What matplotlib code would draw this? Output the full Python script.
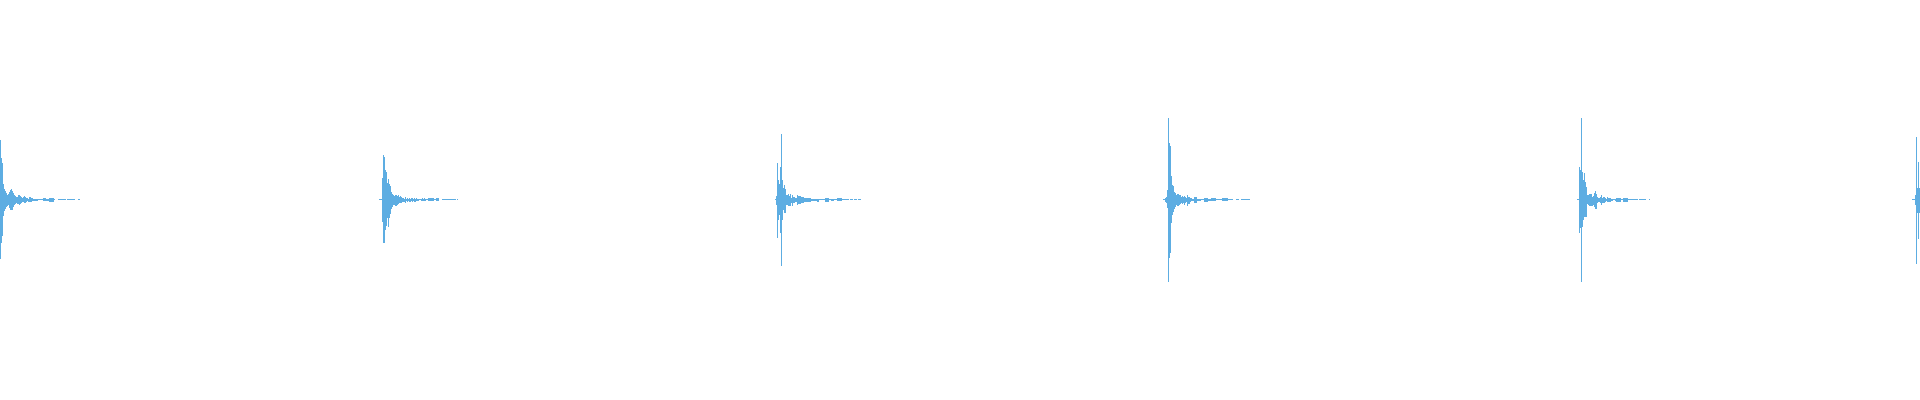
import numpy as np
import matplotlib
matplotlib.use("Agg")
import matplotlib.pyplot as plt

# waveform colour
WAVE_COLOR = "#5DADE2"

# onset of each hit (frame index)
onsets = [0, 379, 775, 1163, 1577, 1912]

# envelope per frame after each onset: upper / lower peak
hit1_up = [60, 42, 37, 16, 11, 9, 7, 5, 6, 8, 10, 11, 9, 7, 5, 4, 3, 3, 5, 5,
           4, 3, 2, 3, 4, 3, 2, 2, 1, 3, 3, 2, 2, 1, 1, 1, 1, 1] \
    + [0.5] * 5 + [2] * 3 + [1] * 3 + [2] * 5 + [0.5] + [0] * 3 + [0.5] * 8 \
    + [0] + [0.5] * 8 + [0] * 3 + [0.5] * 2
hit1_lo = [-59, -43, -36, -16, -11, -9, -7, -6, -5, -8, -10, -10, -10, -7, -5,
           -4, -3, -4, -4, -5, -4, -3, -2, -2, -3, -3, -2, -1, -2, -2, -2, -2,
           -1, -1, -1, -1, -1, -1] \
    + [-0.5] * 5 + [-1] * 3 + [-1] * 3 + [-2] * 5 + [-0.5] + [0] * 3 \
    + [-0.5] * 8 + [0] + [-0.5] * 8 + [0] * 3 + [-0.5] * 2

hit2_up = [0.5] * 3 + [22, 45, 43, 30, 28, 17, 21, 16, 14, 8, 6, 5, 4, 5, 5, 4,
                       5, 3, 4, 3, 2, 2, 1, 3, 1] \
    + [2, 1, 2, 1, 2, 2, 1, 2, 1, 2, 1, 1] + [0.5] * 2 + [1, 1.5, 1, 1.5, 1] \
    + [0.5] * 2 + [1.5] * 6 + [0.5] * 2 + [1.5] * 3 + [0] * 3 + [0.5] * 14 \
    + [0] + [0.5]
hit2_lo = [-0.5] * 3 + [-22, -43, -43, -30, -26, -18, -27, -18, -14, -9, -7, -5,
                        -5, -6, -6, -5, -4, -3, -3, -3, -2, -2, -2, -3, -1] \
    + [-2, -1, -2, -2, -1, -2, -1, -2, -2, -1, -1, -1] + [-0.5] * 2 \
    + [-1, -1.5, -1, -1, -1] + [-0.5] * 2 + [-1.5] * 6 + [-0.5] * 2 \
    + [-1.5] * 3 + [0] * 3 + [-0.5] * 14 + [0] + [-0.5]

hit3_up = [0.5, 4, 37, 20, 16, 33, 66, 20, 12, 15, 11, 5, 5, 6, 4, 6, 2, 5, 3, 3,
           2, 2, 5, 4, 4, 4, 3, 3, 3, 2, 2, 2] \
    + [1.5] * 4 + [1] * 6 + [1, 1] + [0.5] * 6 + [2] * 4 + [0.5] * 2 + [1] * 3 \
    + [0.5] * 3 + [1.5] * 5 + [0.5] * 4 \
    + [0.5] * 3 + [0] + [0.5] * 3 + [0] + [0.5] * 3 + [0] + [0.5] * 3
hit3_lo = [-0.5, -5, -38, -20, -15, -33, -66, -20, -10, -13, -13, -5, -5, -6, -6,
           -6, -3, -6, -3, -3, -2, -2, -5, -4, -4, -4, -3, -3, -3, -2, -2, -2] \
    + [-2] * 4 + [-1] * 6 + [-2, -2] + [-0.5] * 6 + [-2] * 4 + [-0.5] * 2 \
    + [-1] * 3 + [-0.5] * 3 + [-1.5] * 5 + [-0.5] * 4 \
    + [-0.5] * 3 + [0] + [-0.5] * 3 + [0] + [-0.5] * 3 + [0] + [-0.5] * 3

hit4_up = [0.5, 0.5, 2, 3, 10, 82, 57, 54, 24, 15, 14, 8, 7, 5, 6, 6, 5, 5, 3, 4,
           3, 4, 3, 2, 5, 3, 3, 2, 2, 1, 1] \
    + [3] * 3 + [1] * 4 + [0.5] * 3 + [2] * 4 + [1] * 3 + [1.5] * 5 \
    + [0.5] * 6 + [1.5] * 6 + [0.5] * 5 + [0] * 3 + [0.5] * 3 + [0] * 2 \
    + [0.5] * 9
hit4_lo = [-0.5, -0.5, -2, -3, -8, -82, -58, -53, -23, -15, -12, -9, -7, -5, -6,
           -6, -5, -4, -3, -4, -3, -5, -3, -2, -6, -4, -4, -2, -1, -1, -1] \
    + [-3] * 3 + [-1] * 4 + [-0.5] * 3 + [-2] * 4 + [-1] * 3 + [-1.5] * 5 \
    + [-0.5] * 6 + [-1.5] * 6 + [-0.5] * 5 + [0] * 3 + [-0.5] * 3 + [0] * 2 \
    + [-0.5] * 9

hit5_up = [0.5, 0.5, 33, 30, 82, 28, 20, 27, 18, 13, 5, 5, 6, 6, 6, 3, 4, 7, 9, 6,
           3, 2, 2, 3, 5, 2, 3, 3, 2, 1, 3, 2, 2, 2, 1, 1] \
    + [0.5] * 2 + [1] + [2] * 5 + [0.5] * 2 + [2] * 5 + [0.5] * 10 + [0] \
    + [0.5] * 7 + [0] * 3 + [0.5]
hit5_lo = [-0.5, -0.5, -33, -28, -82, -27, -20, -17, -17, -17, -4, -5, -6, -6,
           -6, -6, -5, -7, -9, -9, -3, -2, -2, -3, -5, -3, -3, -3, -2, -1, -2,
           -2, -2, -2, -1, -1] \
    + [-0.5] * 2 + [-1] + [-2] * 5 + [-0.5] * 2 + [-2] * 5 + [-0.5] * 10 + [0] \
    + [-0.5] * 7 + [0] * 3 + [-0.5]

hit6_up = [0.5, 0.5, 0.5, 5, 63, 12, 38, 12]
hit6_lo = [-0.5, -0.5, -0.5, -5, -64, -13, -39, -13]

uppers = [hit1_up, hit2_up, hit3_up, hit4_up, hit5_up, hit6_up]
lowers = [hit1_lo, hit2_lo, hit3_lo, hit4_lo, hit5_lo, hit6_lo]

fig = plt.figure(figsize=(19.2, 4), dpi=100)
ax = fig.add_axes([0, 0, 1, 1])

# one column per frame, from lower to upper peak
for start, up, lo in zip(onsets, uppers, lowers):
    up = np.array(up, dtype=float)
    lo = np.array(lo, dtype=float)
    x = start + np.arange(len(up))
    ax.bar(x, up - lo, bottom=lo, width=1.0, align="edge",
           color=WAVE_COLOR, linewidth=0)

ax.set_xlim(0, 1920)
ax.set_ylim(-200.5, 199.5)
ax.axis("off")

fig.savefig("out.png", dpi=100, facecolor="white")
